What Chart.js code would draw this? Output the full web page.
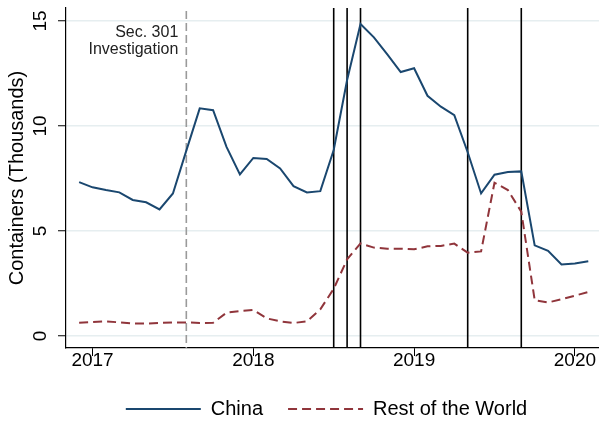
<!DOCTYPE html>
<html>
<head>
<meta charset="utf-8">
<script src="https://cdn.jsdelivr.net/npm/chart.js@4.4.1/dist/chart.umd.min.js"></script>
<style>
  html, body { margin: 0; padding: 0; background: #fff; }
  #wrap { width: 599px; height: 421px; }
</style>
</head>
<body>
<div id="wrap"><canvas id="chart"></canvas></div>
<script>
// monthly observations, containers in thousands
const months = [
  '2016-12',
  '2017-01', '2017-02', '2017-03', '2017-04', '2017-05', '2017-06',
  '2017-07', '2017-08', '2017-09', '2017-10', '2017-11', '2017-12',
  '2018-01', '2018-02', '2018-03', '2018-04', '2018-05', '2018-06',
  '2018-07', '2018-08', '2018-09', '2018-10', '2018-11', '2018-12',
  '2019-01', '2019-02', '2019-03', '2019-04', '2019-05', '2019-06',
  '2019-07', '2019-08', '2019-09', '2019-10', '2019-11', '2019-12',
  '2020-01', '2020-02'
];
const china = [
  7.33,
  7.08, 6.95, 6.84, 6.48, 6.37, 6.03, 6.79, 8.83, 10.84, 10.75, 9.01, 7.70,
  8.48, 8.43, 7.98, 7.14, 6.84, 6.90, 8.86, 12.19, 14.86, 14.22, 13.41, 12.57,
  12.75, 11.44, 10.92, 10.52, 8.75, 6.79, 7.68, 7.81, 7.84, 4.32, 4.06, 3.41,
  3.45, 3.56
];
const restOfWorld = [
  0.63,
  0.67, 0.70, 0.65, 0.60, 0.59, 0.62, 0.65, 0.65, 0.62, 0.63, 1.11, 1.19,
  1.24, 0.84, 0.70, 0.62, 0.70, 1.27, 2.25, 3.65, 4.41, 4.21, 4.16, 4.16,
  4.13, 4.27, 4.29, 4.40, 3.97, 4.03, 7.30, 6.95, 5.92, 1.71, 1.60, 1.75,
  1.92, 2.10
];
const yearTicks = [2017, 2018, 2019, 2020];
const valueTicks = [0, 5, 10, 15];
const tariffMonths = ['2018-07', '2018-08', '2018-09', '2019-05', '2019-09'];
const sec301Month = '2017-08';
const sec301Label = ['Sec. 301', 'Investigation'];

const FONT = "'Liberation Sans', Arial, sans-serif";

function toYear(m) {
  const [y, mo] = m.split('-').map(Number);
  return y + (mo - 1) / 12;
}

const eventLines = {
  id: 'eventLines',
  beforeInit(chart) {
    // Stata-like legend: tight height below the axis
    const fit = chart.legend.fit;
    chart.legend.fit = function () {
      fit.call(this);
      this.height = 47;
    };
  },
  afterLayout(chart) {
    // centre legend under the plot region rather than the canvas
    chart.legend.left += 27;
    chart.legend.right += 27;
  },
  beforeDatasetsDraw(chart) {
    const { ctx, chartArea: a, scales: { x } } = chart;
    ctx.save();
    ctx.strokeStyle = '#000';
    ctx.lineWidth = 1.6;
    tariffMonths.forEach(m => {
      const px = x.getPixelForValue(toYear(m));
      ctx.beginPath();
      ctx.moveTo(px, a.top);
      ctx.lineTo(px, a.bottom);
      ctx.stroke();
    });
    const sx = x.getPixelForValue(toYear(sec301Month));
    ctx.strokeStyle = '#9a9a9a';
    ctx.setLineDash([8, 4]);
    ctx.beginPath();
    ctx.moveTo(sx, a.top + 3);
    ctx.lineTo(sx, a.bottom);
    ctx.stroke();
    ctx.restore();
  },
  afterDatasetsDraw(chart) {
    const { ctx, scales: { x, y } } = chart;
    const sx = x.getPixelForValue(toYear(sec301Month)) - 8;
    ctx.save();
    ctx.font = '16px ' + FONT;
    ctx.fillStyle = '#222';
    ctx.textAlign = 'right';
    ctx.textBaseline = 'middle';
    ctx.fillText(sec301Label[0], sx, y.getPixelForValue(14.43));
    ctx.fillText(sec301Label[1], sx, y.getPixelForValue(13.62));
    ctx.restore();
  }
};

new Chart(document.getElementById('chart'), {
  type: 'line',
  data: {
    datasets: [
      {
        label: 'China',
        data: months.map((m, i) => ({ x: toYear(m), y: china[i] })),
        borderColor: '#1a476f',
        borderWidth: 2,
        pointRadius: 0,
        pointStyle: 'line',
        tension: 0,
        fill: false
      },
      {
        label: 'Rest of the World',
        data: months.map((m, i) => ({ x: toYear(m), y: restOfWorld[i] })),
        borderColor: '#90353b',
        borderWidth: 2,
        borderDash: [9, 5],
        pointRadius: 0,
        pointStyle: 'line',
        tension: 0,
        fill: false
      }
    ]
  },
  options: {
    responsive: true,
    maintainAspectRatio: false,
    animation: false,
    layout: { padding: { top: 8, right: 0, bottom: 0, left: 0 } },
    plugins: {
      tooltip: { enabled: false },
      legend: {
        position: 'bottom',
        labels: {
          usePointStyle: true,
          pointStyleWidth: 75,
          padding: 25,
          color: '#000',
          font: { family: FONT, size: 20 },
          // point style drops the line's dash and width, put them back
          generateLabels: chart => Chart.defaults.plugins.legend.labels.generateLabels(chart).map(item => {
            const ds = chart.data.datasets[item.datasetIndex];
            item.lineDash = ds.borderDash || [];
            item.lineWidth = ds.borderWidth;
            item.strokeStyle = ds.borderColor;
            return item;
          })
        }
      }
    },
    scales: {
      x: {
        type: 'linear',
        min: 2016.835,
        max: 2020.15,
        afterBuildTicks: s => { s.ticks = yearTicks.map(v => ({ value: v })); },
        afterFit: s => { s.height = 26; },
        grid: { drawOnChartArea: false, drawTicks: true, tickLength: 8, tickColor: '#000', tickWidth: 1 },
        border: { display: true, color: '#000', width: 1.2 },
        ticks: {
          padding: -6.5,
          maxRotation: 0,
          color: '#000',
          font: { family: FONT, size: 19 },
          callback: v => String(v)
        }
      },
      y: {
        min: -0.57,
        max: 15.62,
        afterBuildTicks: s => { s.ticks = valueTicks.map(v => ({ value: v })); },
        afterFit: s => { s.width = 66; s.paddingTop = 0; s.paddingBottom = 0; },
        grid: { color: '#e6eef0', lineWidth: 1.5, drawTicks: true, tickLength: 8, tickColor: '#000', tickWidth: 1 },
        border: { display: true, color: '#000', width: 1.2 },
        ticks: {
          minRotation: 90,
          maxRotation: 90,
          crossAlign: 'center',
          padding: 7,
          color: '#000',
          font: { family: FONT, size: 19 }
        },
        title: {
          display: true,
          text: 'Containers (Thousands)',
          color: '#000',
          padding: { top: 5, bottom: 0 },
          font: { family: FONT, size: 20 }
        }
      }
    }
  },
  plugins: [eventLines]
});
</script>
</body>
</html>
